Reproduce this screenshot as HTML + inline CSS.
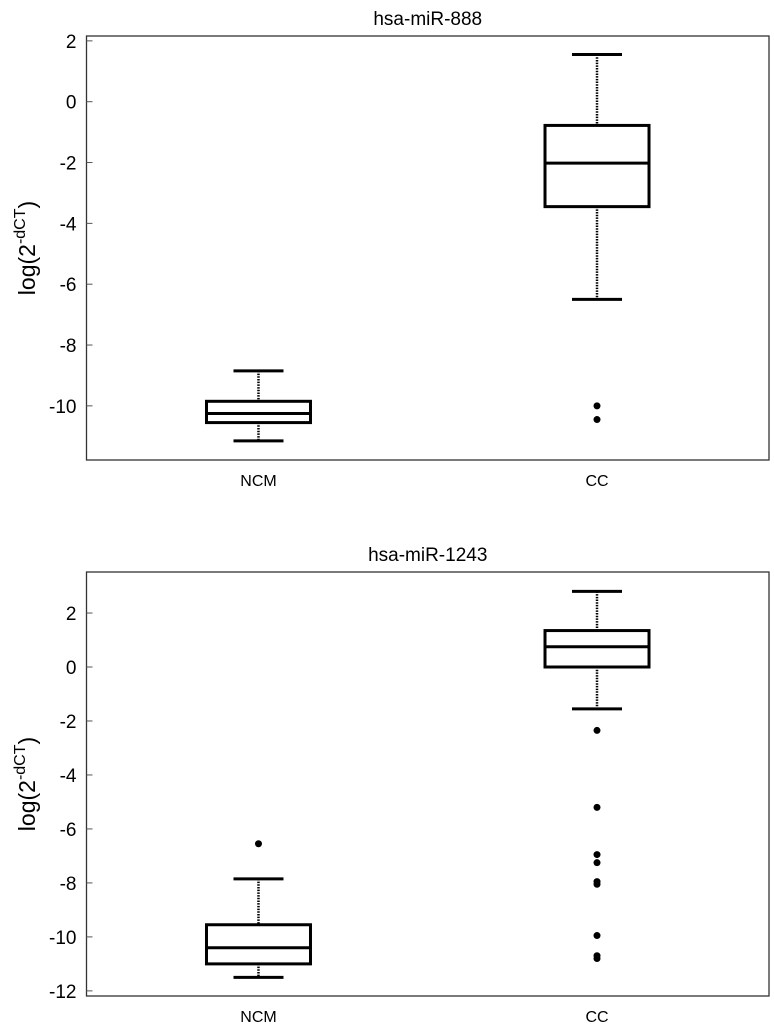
<!DOCTYPE html>
<html><head><meta charset="utf-8"><style>
body{margin:0;background:#fff;width:774px;height:1024px;overflow:hidden}
svg{display:block;font-family:"Liberation Sans",Arial,sans-serif}
</style></head><body>
<svg id="c" width="774" height="1024"></svg>
<script>
const categories=["NCM","CC"];
const titles=["hsa-miR-888","hsa-miR-1243"];
const p1Stats=[[-11.15,-10.55,-10.25,-9.85,-8.85],[-6.5,-3.45,-2.02,-0.78,1.55]];
const p1Outliers=[[],[-10.0,-10.45]];
const p2Stats=[[-11.5,-11.0,-10.4,-9.55,-7.85],[-1.55,0,0.75,1.35,2.8]];
const p2Outliers=[[-6.55],[-2.35,-5.2,-6.95,-7.25,-7.95,-8.05,-9.95,-10.7,-10.8]];
const p1Ticks=[2,0,-2,-4,-6,-8,-10];
const p2Ticks=[2,0,-2,-4,-6,-8,-10,-12];
const NS="http://www.w3.org/2000/svg";
const svg=document.getElementById('c');
function mk(tag,attrs,parent){const e=document.createElementNS(NS,tag);for(const k in attrs)e.setAttribute(k,attrs[k]);(parent||svg).appendChild(e);return e;}
function panel(idx,top,bottom,ymin,ymax,ticks,stats,outs){
  const L=86.5,R=769;
  const g=mk('g',{});
  
  
  const y=v=>bottom-(v-ymin)/(ymax-ymin)*(bottom-top);
  const xc=i=>L+(R-L)*(i===0?0.252:0.748);
  const t=mk('text',{x:(L+R)/2,y:top-11,'text-anchor':'middle','font-size':19},g);t.textContent=titles[idx];
  
  const fr=mk('rect',{x:L,y:top,width:R-L,height:bottom-top,fill:'none',stroke:'#333','stroke-width':1.3},g);
  
  ticks.forEach(v=>{
    mk('line',{x1:L,x2:L+6,y1:y(v),y2:y(v),stroke:'#555','stroke-width':1},g);
    const tl=mk('text',{x:L-10,y:y(v)+7,'text-anchor':'end','font-size':19},g);tl.textContent=v;
    
  });
  const yl=mk('text',{transform:`translate(35,${(top+bottom)/2}) rotate(-90)`,'text-anchor':'middle','font-size':23},g);
  yl.innerHTML='log(2<tspan dy="-10" font-size="16">-dCT</tspan><tspan dy="10">)</tspan>';
  
  categories.forEach((c,i)=>{
    const x=xc(i),s=stats[i],hw=52,cw=25;
    const bg=mk('g',{},g);
    
    
    mk('line',{x1:x,x2:x,y1:y(s[4]),y2:y(s[3]),stroke:'#000','stroke-width':2.5,'stroke-dasharray':'1.5,1.2'},bg);
    mk('line',{x1:x,x2:x,y1:y(s[1]),y2:y(s[0]),stroke:'#000','stroke-width':2.5,'stroke-dasharray':'1.5,1.2'},bg);
    mk('line',{x1:x-cw,x2:x+cw,y1:y(s[4]),y2:y(s[4]),stroke:'#000','stroke-width':3},bg);
    mk('line',{x1:x-cw,x2:x+cw,y1:y(s[0]),y2:y(s[0]),stroke:'#000','stroke-width':3},bg);
    mk('rect',{x:x-hw,y:y(s[3]),width:2*hw,height:y(s[1])-y(s[3]),fill:'none',stroke:'#000','stroke-width':3},bg);
    mk('line',{x1:x-hw,x2:x+hw,y1:y(s[2]),y2:y(s[2]),stroke:'#000','stroke-width':3},bg);
    outs[i].forEach(v=>{const o=mk('circle',{cx:x,cy:y(v),r:3.5,fill:'#000'},bg);
      });
    const cl=mk('text',{x:x,y:bottom+26,'text-anchor':'middle','font-size':16},g);cl.textContent=c;
    
  });
}
panel(0,36,460,-11.78,2.16,p1Ticks,p1Stats,p1Outliers);
panel(1,572,996,-12.19,3.52,p2Ticks,p2Stats,p2Outliers);
</script>
</body></html>
